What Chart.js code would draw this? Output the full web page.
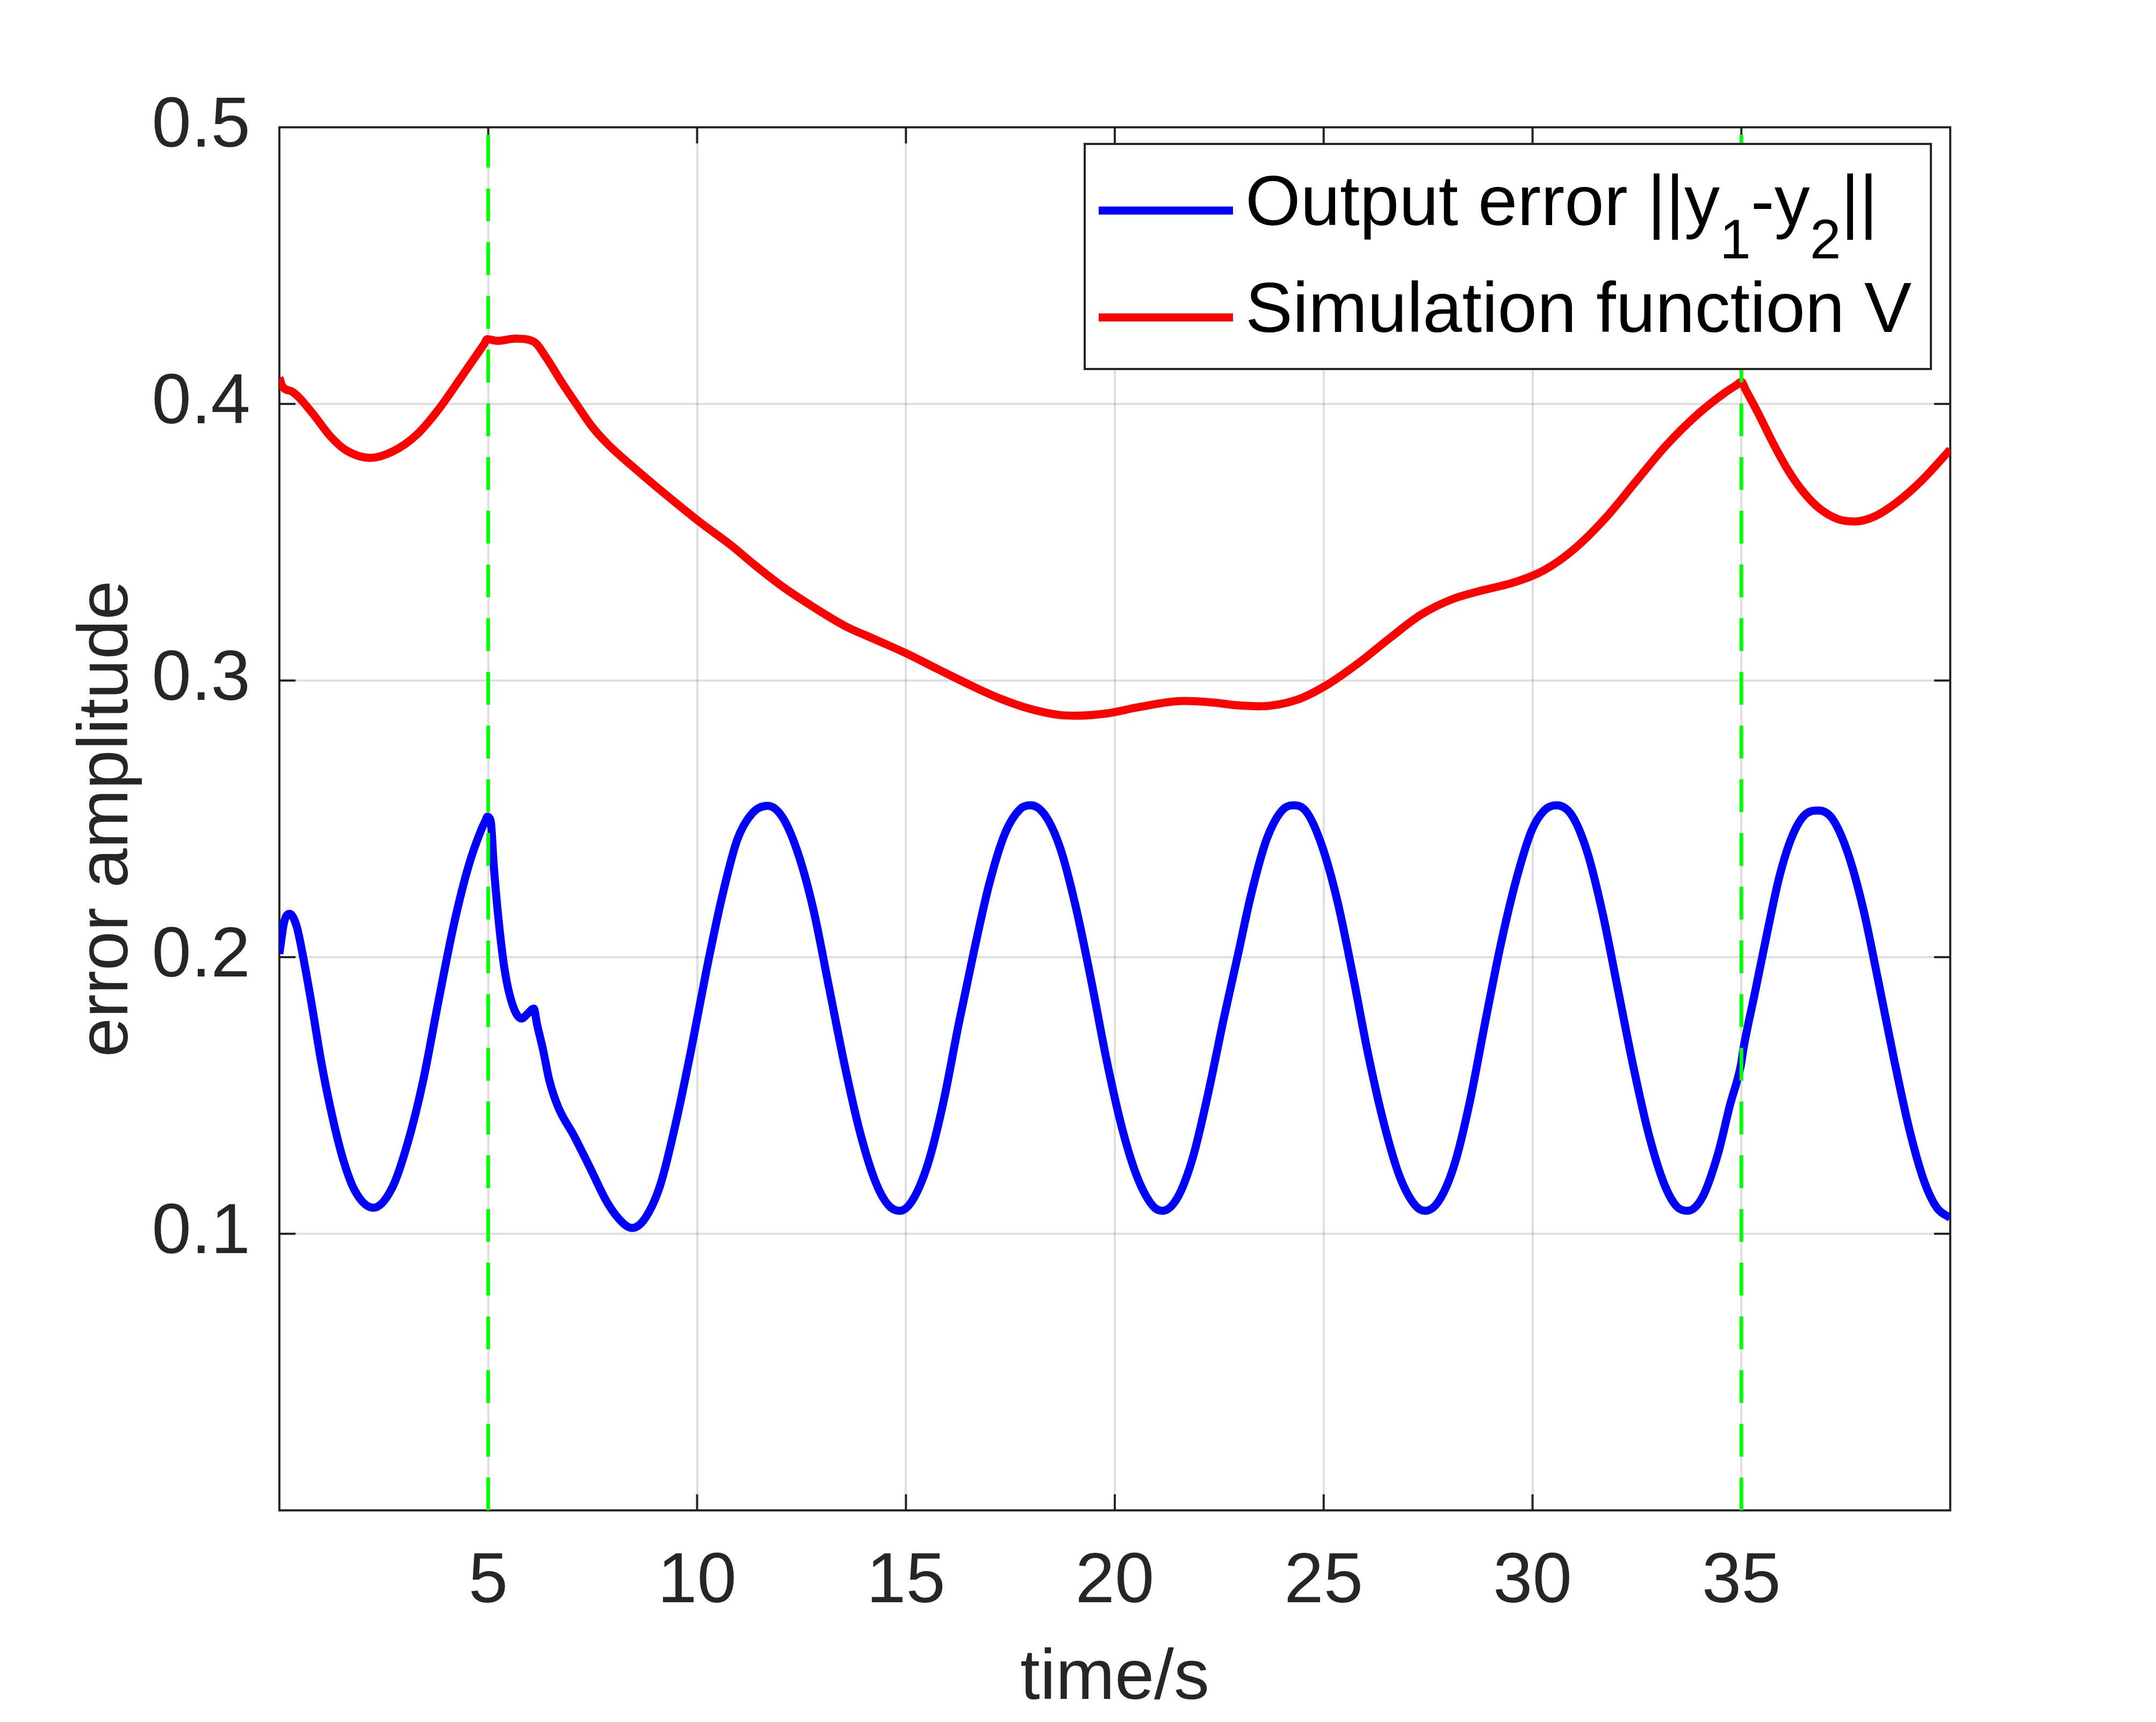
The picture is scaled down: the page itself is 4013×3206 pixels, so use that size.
<!DOCTYPE html>
<html>
<head>
<meta charset="utf-8">
<script src="https://cdn.jsdelivr.net/npm/chart.js@4.4.1/dist/chart.umd.min.js"></script>
<style>
    html, body { margin: 0; padding: 0; background: #fff; }
    #wrap { width: 4013px; height: 3206px; }
</style>
</head>
<body>
<div id="wrap"><canvas id="errorChart" width="4013" height="3206"></canvas></div>
<script>
// ============= Data =============
const errorTime = [0, 0.11, 0.245, 0.41, 0.555, 0.78, 1.0, 1.22, 1.51, 1.81, 2.25, 2.7, 3.06, 3.43, 3.8, 4.17, 4.54, 4.84, 4.93, 4.98, 5.06,
    5.13, 5.24, 5.39, 5.58, 5.8, 5.94, 6.09, 6.17, 6.31, 6.46, 6.68, 7.05, 7.42, 7.86, 8.23, 8.44, 8.75, 9.12, 9.49, 9.86,
    10.23, 10.59, 10.96, 11.32, 11.69, 12.06, 12.43, 12.79, 13.16, 13.53, 13.9, 14.27, 14.57, 14.85, 15.16, 15.53, 15.9, 16.26, 16.63, 17.0,
    17.37, 17.74, 17.98, 18.33, 18.7, 19.07, 19.44, 19.81, 20.18, 20.55, 20.92, 21.14, 21.51, 21.87, 22.24, 22.61, 22.95, 23.26, 23.63, 24.0,
    24.28, 24.59, 24.96, 25.33, 25.7, 26.07, 26.44, 26.81, 27.18, 27.43, 27.77, 28.14, 28.5, 28.87, 29.24, 29.61, 29.98, 30.28, 30.57, 30.94,
    31.31, 31.68, 32.05, 32.42, 32.79, 33.16, 33.45, 33.71, 34.07, 34.44, 34.73, 34.99, 35.05, 35.32, 35.62, 35.91, 36.21, 36.51, 36.85, 37.17,
    37.54, 37.91, 38.28, 38.65, 39.02, 39.38, 39.68, 40];
const errorValues = [0.2012, 0.2124, 0.2157, 0.2113, 0.2012, 0.1823, 0.1623, 0.1456, 0.1277, 0.1155, 0.1094, 0.1166, 0.1322, 0.1545, 0.1834, 0.2113, 0.2335, 0.2463, 0.2492, 0.2508, 0.2491,
    0.2335, 0.2146, 0.1957, 0.1829, 0.1778, 0.1795, 0.1814, 0.1756, 0.1667, 0.1556, 0.1456, 0.1355, 0.1244, 0.1110, 0.1038, 0.1021, 0.1055, 0.1177, 0.1400, 0.1667,
    0.1957, 0.2213, 0.2424, 0.2520, 0.2547, 0.2502, 0.2369, 0.2168, 0.1890, 0.1611, 0.1367, 0.1188, 0.1105, 0.1083, 0.1122, 0.1255, 0.1478, 0.1756, 0.2023, 0.2268,
    0.2447, 0.2536, 0.2549, 0.2513, 0.2391, 0.2179, 0.1912, 0.1623, 0.1378, 0.1200, 0.1099, 0.1083, 0.1133, 0.1277, 0.1511, 0.1779, 0.2010, 0.2224, 0.2424, 0.2530,
    0.2549, 0.2525, 0.2402, 0.2202, 0.1934, 0.1645, 0.1400, 0.1211, 0.1105, 0.1083, 0.1122, 0.1255, 0.1478, 0.1767, 0.2046, 0.2280, 0.2458, 0.2530, 0.2549, 0.2513,
    0.2380, 0.2157, 0.1879, 0.1600, 0.1355, 0.1177, 0.1099, 0.1083, 0.1133, 0.1289, 0.1467, 0.1611, 0.1670, 0.1868, 0.2090, 0.2291, 0.2435, 0.2513, 0.2530, 0.2502,
    0.2380, 0.2179, 0.1912, 0.1634, 0.1378, 0.1188, 0.1094, 0.1057];

const simTime = [0, 0.08, 0.3, 0.48, 0.85, 1.22, 1.59, 2.18, 2.7, 3.29, 3.8, 4.32, 4.9, 4.98, 5.21, 5.65, 6.09, 6.39, 6.76, 7.13, 7.49,
    7.86, 8.6, 9.34, 10.08, 10.82, 11.32, 12.06, 12.79, 13.53, 14.27, 15.01, 15.75, 16.49, 17.22, 17.96, 18.7, 19.07, 19.81, 20.55, 21.65,
    22.39, 22.89, 23.45, 24.37, 25.11, 25.85, 26.59, 27.32, 28.06, 28.8, 29.54, 30.28, 31.01, 31.75, 32.49, 33.2, 33.95, 34.6, 34.9, 35.0, 35.1, 35.4,
    35.77, 36.14, 36.51, 36.87, 37.32, 37.72, 38.2, 38.72, 39.31, 40];
const simValues = [0.4095, 0.4061, 0.4045, 0.4022, 0.3955, 0.3883, 0.3833, 0.3805, 0.3827, 0.3889, 0.3978, 0.4089, 0.4216, 0.4234, 0.4228, 0.4236, 0.4225, 0.4167, 0.4078, 0.3995, 0.3917,
    0.3855, 0.3755, 0.3661, 0.3571, 0.3488, 0.3425, 0.3338, 0.3265, 0.3198, 0.3148, 0.3098, 0.3042, 0.2987, 0.2937, 0.2898, 0.2875, 0.2873, 0.2881, 0.2903, 0.2926,
    0.2920, 0.2911, 0.2907, 0.2931, 0.2987, 0.3065, 0.3154, 0.3237, 0.3293, 0.3326, 0.3354, 0.3399, 0.3477, 0.3588, 0.3722, 0.3850, 0.3962, 0.4040, 0.4070, 0.4080, 0.4052, 0.3967,
    0.3855, 0.3755, 0.3677, 0.3622, 0.3583, 0.3575, 0.3594, 0.3644, 0.3722, 0.3835];

const switchTimes = [5, 35];
const xTicks = [5, 10, 15, 20, 25, 30, 35];
const yTicks = [0.1, 0.2, 0.3, 0.4, 0.5];

// ============= Style =============
const FONT = '"Liberation Sans", Arial, Helvetica, sans-serif';
const AXIS_COLOR = '#262626';
const GRID_COLOR = 'rgba(38,38,38,0.15)';

const toPoints = (xs, ys) => xs.map((x, i) => ({ x: x, y: ys[i] }));

// Box round the axes with inward ticks on all four sides
const axesBoxPlugin = {
    id: 'axesBox',
    beforeDatasetsDraw(chart) {
        const { ctx, chartArea: a, scales } = chart;
        const tl = 30;
        ctx.save();
        ctx.strokeStyle = AXIS_COLOR;
        ctx.lineWidth = 4;
        ctx.strokeRect(a.left, a.top, a.right - a.left, a.bottom - a.top);
        ctx.beginPath();
        xTicks.forEach(v => {
            const px = scales.x.getPixelForValue(v);
            ctx.moveTo(px, a.bottom); ctx.lineTo(px, a.bottom - tl);
            ctx.moveTo(px, a.top); ctx.lineTo(px, a.top + tl);
        });
        yTicks.forEach(v => {
            const py = scales.y.getPixelForValue(v);
            ctx.moveTo(a.left, py); ctx.lineTo(a.left + tl, py);
            ctx.moveTo(a.right, py); ctx.lineTo(a.right - tl, py);
        });
        ctx.stroke();
        ctx.restore();
    }
};

// MATLAB-style legend box (needs subscripts, so drawn by hand)
const legendPlugin = {
    id: 'matlabLegend',
    afterDraw(chart) {
        const { ctx, chartArea: a } = chart;
        const w = 1575, h = 419;
        const x0 = a.right - 36 - w;
        const y0 = a.top + 31;
        ctx.save();
        ctx.fillStyle = '#fff';
        ctx.fillRect(x0, y0, w, h);
        ctx.strokeStyle = AXIS_COLOR;
        ctx.lineWidth = 4;
        ctx.strokeRect(x0, y0, w, h);

        const rows = [
            { color: '#0000ff', y: y0 + 124, parts: [['Output error ||y', 0], ['1', 1], ['-y', 0], ['2', 1], ['||', 0]] },
            { color: '#ff0000', y: y0 + 323, parts: [['Simulation function V', 0]] }
        ];
        rows.forEach(r => {
            ctx.strokeStyle = r.color;
            ctx.lineWidth = 15;
            ctx.beginPath();
            ctx.moveTo(x0 + 26, r.y);
            ctx.lineTo(x0 + 276, r.y);
            ctx.stroke();

            let tx = x0 + 299;
            ctx.fillStyle = '#000';
            ctx.textBaseline = 'alphabetic';
            ctx.textAlign = 'left';
            r.parts.forEach(([txt, sub]) => {
                ctx.font = (sub ? '104px ' : '132px ') + FONT;
                ctx.fillText(txt, tx, r.y + 27 + (sub ? 62 : 0));
                tx += ctx.measureText(txt).width;
            });
        });
        ctx.restore();
    }
};

const lineStyle = {
    pointRadius: 0,
    borderWidth: 15,
    fill: false,
    cubicInterpolationMode: 'monotone',
    borderJoinStyle: 'round',
    clip: 0
};

const datasets = [
    Object.assign({ label: 'Output error', data: toPoints(errorTime, errorValues), borderColor: '#0000ff', order: 1 }, lineStyle),
    Object.assign({ label: 'Simulation function V', data: toPoints(simTime, simValues), borderColor: '#ff0000', order: 2 }, lineStyle)
].concat(switchTimes.map(t => ({
    label: 'switch',
    data: [{ x: t, y: 0.5 }, { x: t, y: 0 }],
    borderColor: '#00ff00',
    borderWidth: 7,
    borderDash: [61, 39],
    borderDashOffset: 86,
    pointRadius: 0,
    tension: 0,
    clip: 0,
    order: 0
})));

const tickFont = { family: FONT, size: 132 };

new Chart(document.getElementById('errorChart'), {
    type: 'line',
    data: { datasets: datasets },
    options: {
        responsive: false,
        devicePixelRatio: 1,
        animation: false,
        layout: { padding: { top: 237, right: 383, left: 0, bottom: 0 } },
        plugins: { legend: { display: false }, tooltip: { enabled: false } },
        scales: {
            x: {
                type: 'linear',
                min: 0,
                max: 40,
                ticks: {
                    stepSize: 5,
                    autoSkip: false,
                    maxRotation: 0,
                    padding: 55,
                    color: AXIS_COLOR,
                    font: tickFont,
                    callback: v => (v === 0 || v === 40) ? '' : v
                },
                grid: { color: GRID_COLOR, lineWidth: 4, drawTicks: false },
                border: { display: false },
                title: { display: true, text: 'time/s', color: AXIS_COLOR, font: tickFont, padding: { top: 0, bottom: 0 } },
                afterFit: s => { s.height = 394; }
            },
            y: {
                min: 0,
                max: 0.5,
                ticks: {
                    stepSize: 0.1,
                    padding: 54,
                    color: AXIS_COLOR,
                    font: tickFont,
                    callback: v => v === 0 ? '' : v.toFixed(1)
                },
                grid: { color: GRID_COLOR, lineWidth: 4, drawTicks: false },
                border: { display: false },
                title: { display: true, text: 'error amplitude', color: AXIS_COLOR, font: tickFont, padding: { top: 121, bottom: 0 } },
                afterFit: s => { s.width = 520; }
            }
        }
    },
    plugins: [axesBoxPlugin, legendPlugin]
});
</script>
</body>
</html>
